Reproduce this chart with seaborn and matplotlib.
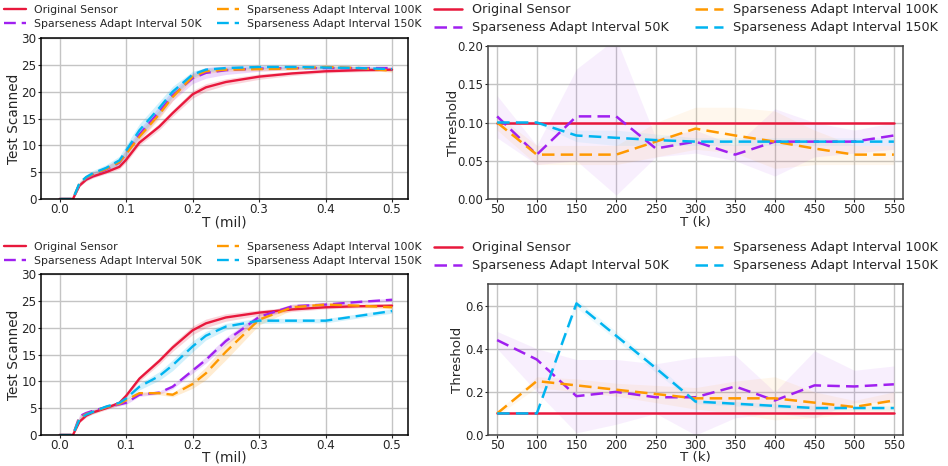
import numpy as np
import pandas as pd
import seaborn as sns
import matplotlib
matplotlib.use("Agg")
import matplotlib.pyplot as plt

sns.set_style("ticks")
plt.rcParams['font.family'] = ['DejaVu Sans']

labels = ["Original Sensor", "Sparseness Adapt Interval 50K",
          "Sparseness Adapt Interval 100K", "Sparseness Adapt Interval 150K"]
colors = ["#e8183c", "#a020f0", "#ff9900", "#00b4f0"]

# ---------- top-left: Test Scanned vs T (mil) ----------
t_mil = [0.0, 0.01, 0.02, 0.03, 0.04, 0.05, 0.07, 0.09, 0.1, 0.12, 0.15, 0.17,
         0.2, 0.22, 0.25, 0.3, 0.35, 0.4, 0.45, 0.5]
tl_orig = [0, 0, 0, 2.5, 3.6, 4.2, 5.0, 6.0, 7.3, 10.5, 13.5, 16.0,
           19.5, 20.8, 21.8, 22.8, 23.4, 23.8, 24.0, 24.1]
tl_50k = [0, 0, 0, 2.8, 3.9, 4.5, 5.5, 6.8, 8.5, 12.0, 16.3, 19.3,
          22.5, 23.5, 24.0, 24.3, 24.4, 24.4, 24.4, 24.4]
tl_100k = [0, 0, 0, 2.9, 4.0, 4.6, 5.6, 6.9, 8.4, 11.6, 15.8, 19.0,
           22.8, 23.8, 24.1, 24.2, 24.3, 24.6, 24.4, 23.9]
tl_150k = [0, 0, 0, 3.0, 4.1, 4.8, 5.8, 7.2, 9.0, 12.8, 17.0, 20.0,
           23.2, 24.1, 24.4, 24.6, 24.6, 24.5, 24.4, 24.2]
tl_spread_orig = [0, 0, 0, 0.2, 0.3, 0.3, 0.3, 0.4, 0.5, 0.5, 0.6, 0.6,
                  0.7, 0.7, 0.6, 0.5, 0.4, 0.3, 0.3, 0.3]
tl_spread_50k = [0, 0, 0, 0.3, 0.4, 0.5, 0.6, 0.7, 0.8, 1.0, 1.0, 1.0,
                 1.0, 1.0, 0.8, 0.5, 0.3, 0.3, 0.3, 0.3]
tl_spread_100k = [0, 0, 0, 0.3, 0.3, 0.4, 0.5, 0.6, 0.7, 0.8, 0.8, 0.7,
                  0.5, 0.4, 0.3, 0.3, 0.3, 0.3, 0.3, 0.3]
tl_spread_150k = [0, 0, 0, 0.3, 0.4, 0.5, 0.6, 0.8, 1.0, 1.2, 1.2, 1.0,
                  0.6, 0.4, 0.3, 0.3, 0.3, 0.3, 0.3, 0.3]

# ---------- bottom-left ----------
bl_orig = [0, 0, 0, 2.5, 3.6, 4.2, 5.0, 6.0, 7.3, 10.5, 13.8, 16.3,
           19.5, 20.8, 21.9, 22.8, 23.4, 23.8, 24.0, 24.1]
bl_50k = [0, 0, 0, 3.5, 4.1, 4.5, 5.2, 5.7, 6.0, 7.5, 7.9, 9.0,
          12.0, 14.0, 17.5, 22.0, 24.0, 24.3, 24.8, 25.2]
bl_100k = [0, 0, 0, 3.2, 3.9, 4.3, 5.2, 5.8, 6.5, 7.8, 7.8, 7.5,
           9.5, 11.5, 15.5, 21.5, 23.8, 24.3, 24.1, 23.8]
bl_150k = [0, 0, 0, 3.0, 3.8, 4.3, 5.3, 6.0, 6.8, 9.0, 11.0, 13.0,
           16.5, 18.5, 20.2, 21.3, 21.3, 21.3, 22.2, 23.1]
bl_spread_orig = [0, 0, 0, 0.2, 0.3, 0.3, 0.3, 0.3, 0.4, 0.5, 0.6, 0.7,
                  0.8, 0.8, 0.7, 0.5, 0.4, 0.3, 0.3, 0.3]
bl_spread_50k = [0, 0, 0, 0.3, 0.3, 0.3, 0.3, 0.3, 0.3, 0.3, 0.3, 0.4,
                 0.5, 0.6, 0.7, 0.6, 0.4, 0.3, 0.3, 0.3]
bl_spread_100k = [0, 0, 0, 0.3, 0.3, 0.3, 0.3, 0.3, 0.3, 0.3, 0.3, 0.4,
                  0.8, 1.2, 1.5, 1.0, 0.5, 0.3, 0.3, 0.3]
bl_spread_150k = [0, 0, 0, 0.3, 0.3, 0.3, 0.3, 0.3, 0.4, 0.6, 0.8, 1.0,
                  1.0, 0.8, 0.6, 0.5, 0.4, 0.4, 0.4, 0.4]

# ---------- right panels: Threshold vs T (k) ----------
t_k = [50, 100, 150, 200, 250, 300, 350, 400, 450, 500, 550]
tr_orig = [0.1] * 11
tr_50k = [0.108, 0.058, 0.108, 0.108, 0.066, 0.075, 0.058, 0.075, 0.075, 0.075, 0.083]
tr_100k = [0.1, 0.058, 0.058, 0.058, 0.075, 0.092, 0.083, 0.075, 0.066, 0.058, 0.058]
tr_150k = [0.1, 0.1, 0.083, 0.080, 0.077, 0.075, 0.075, 0.075, 0.075, 0.075, 0.075]
tr_lo_50k = [0.08, 0.045, 0.05, 0.005, 0.055, 0.06, 0.05, 0.03, 0.055, 0.06, 0.065]
tr_hi_50k = [0.135, 0.07, 0.17, 0.21, 0.08, 0.09, 0.07, 0.118, 0.1, 0.09, 0.1]
tr_lo_100k = [0.09, 0.045, 0.045, 0.045, 0.055, 0.065, 0.06, 0.04, 0.045, 0.045, 0.045]
tr_hi_100k = [0.11, 0.07, 0.07, 0.07, 0.1, 0.12, 0.12, 0.115, 0.09, 0.07, 0.07]
tr_lo_150k = [0.098, 0.098, 0.075, 0.07, 0.07, 0.07, 0.07, 0.07, 0.07, 0.07, 0.07]
tr_hi_150k = [0.102, 0.102, 0.09, 0.09, 0.085, 0.08, 0.08, 0.08, 0.08, 0.08, 0.08]

br_orig = [0.1] * 11
br_50k = [0.44, 0.35, 0.18, 0.2, 0.175, 0.175, 0.225, 0.16, 0.23, 0.225, 0.235]
br_100k = [0.1, 0.25, 0.23, 0.21, 0.19, 0.17, 0.17, 0.17, 0.15, 0.13, 0.16]
br_150k = [0.1, 0.1, 0.61, 0.46, 0.31, 0.155, 0.145, 0.135, 0.125, 0.125, 0.125]
br_lo_50k = [0.4, 0.2, 0.01, 0.05, 0.1, 0.0, 0.08, 0.1, 0.08, 0.15, 0.15]
br_hi_50k = [0.48, 0.4, 0.35, 0.35, 0.33, 0.36, 0.37, 0.2, 0.39, 0.3, 0.32]
br_lo_100k = [0.09, 0.22, 0.2, 0.18, 0.15, 0.12, 0.1, 0.07, 0.08, 0.1, 0.1]
br_hi_100k = [0.11, 0.27, 0.26, 0.24, 0.23, 0.22, 0.25, 0.27, 0.2, 0.16, 0.2]
br_lo_150k = [0.098, 0.098, 0.59, 0.44, 0.29, 0.145, 0.135, 0.125, 0.115, 0.115, 0.115]
br_hi_150k = [0.102, 0.102, 0.63, 0.48, 0.33, 0.165, 0.155, 0.145, 0.135, 0.135, 0.135]

fig = plt.figure(figsize=(9.48, 4.66), dpi=100)
W, H = 948, 466


def add_ax(l, t, r, b):
    return fig.add_axes([l / W, 1 - b / H, (r - l) / W, (b - t) / H])


ax_tl = add_ax(41, 38, 408, 199)
ax_tr = add_ax(488, 46, 903, 199)
ax_bl = add_ax(41, 274, 408, 435)
ax_br = add_ax(488, 284, 903, 435)

DASH = (0, (5, 2.5))


def place_legend(ax, x_px, y_px, fs, hl, htp, cs, ls):
    ax.legend(loc="upper left", bbox_to_anchor=(x_px / W, 1 - y_px / H),
              bbox_transform=fig.transFigure, ncol=2, frameon=False,
              fontsize=fs, handlelength=hl, handletextpad=htp,
              columnspacing=cs, labelspacing=ls, borderpad=0,
              borderaxespad=0)


def style_axis(ax, spine_color, xlab_dy, ylab_x, tick_fs, lab_fs, xlabel, ylabel):
    ax.set_xlabel(xlabel, fontsize=lab_fs)
    ax.set_ylabel(ylabel, fontsize=lab_fs)
    ax.xaxis.label.set_va("center")
    ax.yaxis.label.set_va("center")
    h_px = ax.get_position().height * H
    ax.xaxis.set_label_coords(0.5, -xlab_dy / h_px)
    ax.yaxis.set_label_coords(ylab_x, 0.5)
    ax.tick_params(labelsize=tick_fs, length=2, pad=1.2, width=0.8)
    ax.grid(True, color="#c4c4c4", lw=1)
    for sp in ax.spines.values():
        sp.set_color(spine_color)
        sp.set_linewidth(1.1)


def draw_left(ax, means, spreads, xlab_dy, leg_y):
    for m, s, c, lab, i in zip(means, spreads, colors, labels, range(4)):
        m = np.array(m, float)
        s = np.array(s, float)
        ax.fill_between(t_mil, m - s, m + s, color=c, alpha=0.18, lw=0)
        df = pd.DataFrame({"x": t_mil, "y": m})
        sns.lineplot(data=df, x="x", y="y", ax=ax, color=c, lw=1.7,
                     linestyle="-" if i == 0 else DASH, label=lab,
                     legend=False)
    ax.set_ylim(0, 30)
    ax.set_xlim(-0.028, 0.524)
    ax.set_yticks([0, 5, 10, 15, 20, 25, 30])
    ax.set_xticks([0.0, 0.1, 0.2, 0.3, 0.4, 0.5])
    style_axis(ax, "black", xlab_dy, -0.0736, 8.6, 9.8, "T (mil)", "Test Scanned")
    place_legend(ax, 4, leg_y, 7.8, 2.0, 0.75, 1.45, 0.35)


def draw_right(ax, means, lows, highs, xlab_dy, ylab_x, leg_y):
    for m, lo, hi, c, lab, i in zip(means, lows, highs, colors, labels, range(4)):
        if lo is not None:
            ax.fill_between(t_k, lo, hi, color=c, alpha=0.07, lw=0)
        df = pd.DataFrame({"x": t_k, "y": m})
        sns.lineplot(data=df, x="x", y="y", ax=ax, color=c, lw=1.8,
                     linestyle="-" if i == 0 else DASH, label=lab,
                     legend=False)
    ax.set_xticks(t_k)
    ax.set_xlim(38.5, 561.5)
    style_axis(ax, "#444444", xlab_dy, ylab_x, 8.4, 9.6, "T (k)", "Threshold")
    place_legend(ax, 434, leg_y, 9.2, 2.2, 0.75, 2.1, 0.4)


draw_left(ax_tl, [tl_orig, tl_50k, tl_100k, tl_150k],
          [tl_spread_orig, tl_spread_50k, tl_spread_100k, tl_spread_150k],
          23, 5)
draw_left(ax_bl, [bl_orig, bl_50k, bl_100k, bl_150k],
          [bl_spread_orig, bl_spread_50k, bl_spread_100k, bl_spread_150k],
          22.5, 242)

draw_right(ax_tr, [tr_orig, tr_50k, tr_100k, tr_150k],
           [None, tr_lo_50k, tr_lo_100k, tr_lo_150k],
           [None, tr_hi_50k, tr_hi_100k, tr_hi_150k],
           23.5, -0.0843, 3)
ax_tr.set_ylim(0, 0.2)
ax_tr.set_yticks([0.0, 0.05, 0.10, 0.15, 0.20])
ax_tr.set_yticklabels(["0.00", "0.05", "0.10", "0.15", "0.20"])

draw_right(ax_br, [br_orig, br_50k, br_100k, br_150k],
           [None, br_lo_50k, br_lo_100k, br_lo_150k],
           [None, br_hi_50k, br_hi_100k, br_hi_150k],
           22.5, -0.073, 241)
ax_br.set_ylim(0, 0.7)
ax_br.set_yticks([0.0, 0.2, 0.4, 0.6])

fig.savefig("out.png", dpi=100)
